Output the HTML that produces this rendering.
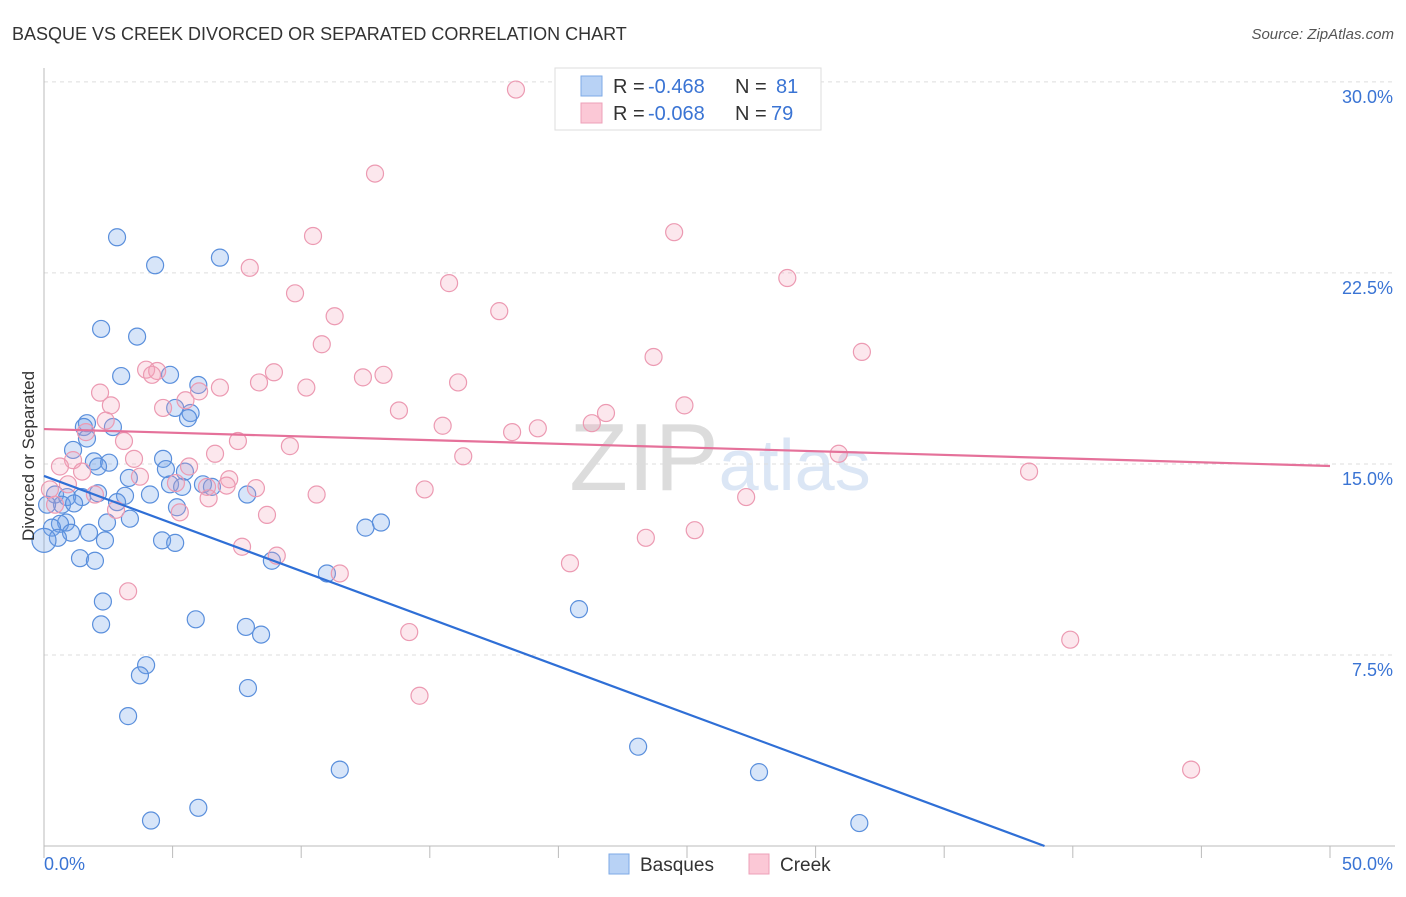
<!DOCTYPE html>
<html><head><meta charset="utf-8"><style>
body{margin:0;background:#fff;font-family:"Liberation Sans",sans-serif;}
svg text{font-family:"Liberation Sans",sans-serif;}
</style></head><body>
<svg id="chart" width="1406" height="892" xmlns="http://www.w3.org/2000/svg">
<text x="12" y="40" font-size="18" fill="#333">BASQUE VS CREEK DIVORCED OR SEPARATED CORRELATION CHART</text>
<text x="1394" y="39" font-size="15" fill="#555" text-anchor="end" font-style="italic">Source: ZipAtlas.com</text>
<text x="720" y="490" font-size="96" fill="#e3e3e3" text-anchor="middle" font-family="Liberation Serif"><tspan fill="#dcdcdc">ZIP</tspan><tspan fill="#dbe6f5" font-family="Liberation Sans" font-size="72">atlas</tspan></text>
<g id="grid"></g>
<g id="axes"></g>
<g id="pts"></g>
<g id="lines"></g>
<text transform="translate(34,456) rotate(-90)" font-size="17" fill="#333" text-anchor="middle">Divorced or Separated</text>
<g>
<rect x="555" y="68" width="266" height="62" fill="#fff" stroke="#ddd"/>
<rect x="581" y="76" width="21" height="20" fill="#b8d2f5" stroke="#7eaae6"/>
<rect x="581" y="103" width="21" height="20" fill="#fbc8d6" stroke="#eea0b8"/>
<text x="613" y="93" font-size="20" fill="#333">R =</text>
<text x="648" y="93" font-size="20" fill="#3a74d4">-0.468</text>
<text x="735" y="93" font-size="20" fill="#333">N =</text>
<text x="776" y="93" font-size="20" fill="#3a74d4">81</text>
<text x="613" y="120" font-size="20" fill="#333">R =</text>
<text x="648" y="120" font-size="20" fill="#3a74d4">-0.068</text>
<text x="735" y="120" font-size="20" fill="#333">N =</text>
<text x="771" y="120" font-size="20" fill="#3a74d4">79</text>
</g>
<g>
<rect x="609" y="854" width="20" height="20" fill="#b8d2f5" stroke="#7eaae6"/>
<text x="640" y="871" font-size="19" fill="#333">Basques</text>
<rect x="749" y="854" width="20" height="20" fill="#fbc8d6" stroke="#eea0b8"/>
<text x="780" y="871" font-size="19" fill="#333">Creek</text>
</g>
</svg>
<script>
const blueX=[2.84,4.32,6.84,2.22,3.62,3.0,4.9,6.0,5.1,5.7,5.6,1.67,1.55,2.68,1.67,1.13,1.94,2.53,2.1,4.63,4.74,5.48,3.3,4.9,5.37,6.18,6.53,4.12,7.9,2.1,0.43,0.9,1.48,3.15,0.7,1.17,2.84,0.12,5.17,0.86,2.45,3.34,0.62,0.31,1.75,1.05,0.54,2.37,4.59,5.1,12.5,13.1,1.4,1.98,8.86,11.0,2.29,2.22,5.9,7.85,8.44,3.97,3.73,7.93,3.27,20.8,23.1,27.8,11.5,6.0,4.16,31.7,0.0];
const blueY=[23.9,22.8,23.1,20.3,20.0,18.45,18.5,18.1,17.2,17.0,16.8,16.6,16.45,16.45,16.0,15.55,15.1,15.05,14.9,15.2,14.8,14.7,14.45,14.2,14.1,14.2,14.1,13.8,13.8,13.85,13.8,13.7,13.7,13.75,13.4,13.45,13.5,13.4,13.3,12.7,12.7,12.85,12.65,12.5,12.3,12.3,12.1,12.0,12.0,11.9,12.5,12.7,11.3,11.2,11.2,10.7,9.6,8.7,8.9,8.6,8.3,7.1,6.7,6.2,5.1,9.3,3.9,2.9,3.0,1.5,1.0,0.9,12.0];
const pinkX=[18.35,12.87,10.46,24.5,8.0,15.75,28.9,9.76,17.7,11.3,10.8,31.8,23.7,3.97,4.4,4.2,8.94,12.4,13.2,16.1,8.36,10.2,6.84,2.18,6.03,5.5,2.6,24.9,4.63,13.8,21.85,21.3,2.4,15.5,19.2,18.2,1.63,3.11,7.54,9.56,6.65,16.3,30.9,3.5,1.13,0.62,1.48,5.64,38.3,3.73,7.2,0.93,5.13,6.34,7.1,8.24,14.8,1.98,10.6,6.4,27.3,2.8,5.28,8.67,25.3,23.4,7.7,9.05,20.45,11.5,3.27,14.2,39.9,14.6,44.6,0.23,0.43];
const pinkY=[29.7,26.4,23.95,24.1,22.7,22.1,22.3,21.7,21.0,20.8,19.7,19.4,19.2,18.7,18.65,18.5,18.6,18.4,18.5,18.2,18.2,18.0,18.0,17.8,17.85,17.5,17.3,17.3,17.2,17.1,17.0,16.6,16.7,16.5,16.4,16.25,16.25,15.9,15.9,15.7,15.4,15.3,15.4,15.2,15.15,14.9,14.7,14.9,14.7,14.5,14.4,14.2,14.25,14.1,14.15,14.05,14.0,13.8,13.8,13.65,13.7,13.2,13.1,13.0,12.4,12.1,11.75,11.4,11.1,10.7,10.0,8.4,8.1,5.9,3.0,14.0,13.4];
const yTicks=[7.5,15.0,22.5,30.0];
const yTickLabels=["7.5%","15.0%","22.5%","30.0%"];
const blueTrend=[14.53,0];
const blueTrendX=[0,38.9];
const pinkTrend=[16.37,14.92];
const pinkTrendX=[0,50];
const sx=v=>44+v*25.72, sy=v=>846-v*25.47;
const NS="http://www.w3.org/2000/svg";
function mk(tag,attrs,parent){const e=document.createElementNS(NS,tag);for(const k in attrs)e.setAttribute(k,attrs[k]);document.getElementById(parent).appendChild(e);return e;}
yTicks.forEach((t,i)=>{
 const g=mk('line',{x1:44,x2:1395,y1:sy(t),y2:sy(t),stroke:'#ddd','stroke-dasharray':'4,4'},'grid');
 
 
 const l=mk('text',{x:1393,y:sy(t)+21,'font-size':18,fill:'#3a74d4','text-anchor':'end'},'grid');
 l.textContent=yTickLabels[i];
 
 
});
mk('line',{x1:44,x2:44,y1:68,y2:846,stroke:'#bbb'},'axes');
mk('line',{x1:44,x2:1395,y1:846,y2:846,stroke:'#bbb'},'axes');
for(let i=0;i<=10;i++){const t=mk('line',{x1:sx(i*5),x2:sx(i*5),y1:846,y2:858,stroke:'#bbb'},'axes');
 
 }
let a=mk('text',{x:44,y:870,'font-size':18,fill:'#3a74d4'},'axes');a.textContent='0.0%';


a=mk('text',{x:1393,y:870,'font-size':18,fill:'#3a74d4','text-anchor':'end'},'axes');a.textContent='50.0%';


blueX.forEach((x,i)=>{const c=mk('circle',{cx:sx(x),cy:sy(blueY[i]),r:i==blueX.length-1?12:8.5,fill:'rgba(110,160,235,0.28)',stroke:'#5a8fdc','stroke-width':1.2},'pts');
 
 });
pinkX.forEach((x,i)=>{const c=mk('circle',{cx:sx(x),cy:sy(pinkY[i]),r:8.5,fill:'rgba(245,160,185,0.25)',stroke:'#ec9ab2','stroke-width':1.2},'pts');
 
 });
let ln=mk('line',{x1:sx(blueTrendX[0]),y1:sy(blueTrend[0]),x2:sx(blueTrendX[1]),y2:sy(blueTrend[1]),stroke:'#2f6fd6','stroke-width':2.2},'lines');


ln=mk('line',{x1:sx(pinkTrendX[0]),y1:sy(pinkTrend[0]),x2:sx(pinkTrendX[1]),y2:sy(pinkTrend[1]),stroke:'#e5719a','stroke-width':2.2},'lines');


</script>
</body></html>
